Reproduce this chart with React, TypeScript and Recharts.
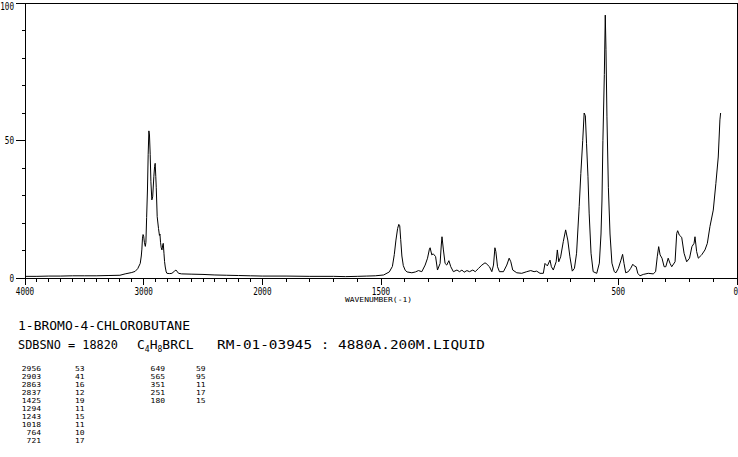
import { Line, LineChart, ReferenceLine, XAxis, YAxis } from "recharts"

// C-H stretch region, drawn at half scale (4000-2000)
const leftWavenumbers = [
  4000, 3900, 3800, 3700, 3600, 3500, 3400, 3300, 3200, 3156, 3100, 3072, 3050, 3029, 3020, 3015,
  3010, 3005, 3000, 2994, 2986, 2981, 2975, 2968, 2962, 2956, 2951, 2945, 2939, 2931, 2924, 2914,
  2908, 2903, 2898, 2894, 2886, 2875, 2867, 2863, 2858, 2852, 2846, 2839, 2835, 2829, 2824, 2818,
  2810, 2804, 2780, 2762, 2740, 2728, 2715, 2706, 2680, 2600, 2500, 2400, 2300, 2200, 2100
]
const leftIntensity = [
  0.6, 0.6, 0.7, 0.7, 0.8, 0.8, 0.8, 0.9, 1.0, 1.5, 2.0, 2.4, 3.4, 5.3, 8, 10.5,
  14.5, 15.8, 15.2, 13, 11.5, 13, 22, 32, 45, 53.5, 52, 45, 35, 28.4, 29.5, 37,
  40.5, 41.7, 37, 33, 22.3, 18, 15.5, 16, 13, 11, 10.2, 12, 12.6, 9, 6, 4,
  2.2, 1.7, 1.6, 1.7, 2.5, 2.9, 2.2, 1.7, 1.5, 1.4, 1.3, 1.1, 1.0, 0.9, 0.8
]

// fingerprint region, full scale (2000-0)
const rightWavenumbers = [
  2000, 1900, 1800, 1700, 1650, 1600, 1560, 1524, 1489, 1465, 1452, 1444, 1437, 1430, 1425, 1421,
  1417, 1412, 1406, 1398, 1390, 1370, 1355, 1342, 1328, 1314, 1304, 1296, 1293, 1286, 1280, 1276,
  1270, 1262, 1251, 1246, 1243, 1237, 1230, 1223, 1214, 1206, 1195, 1180, 1169, 1159, 1150, 1138,
  1127, 1113, 1103, 1089, 1075, 1062, 1057, 1043, 1033, 1026, 1020, 1016, 1009, 1001, 984, 970,
  960, 953, 945, 928, 907, 886, 869, 855, 844, 830, 816, 809, 799, 788, 782, 774,
  762, 757, 751, 743, 732, 722, 713, 704, 694, 685, 676, 665, 658, 650, 644, 639,
  634, 628, 623, 615, 606, 591, 580, 573, 569, 565, 559, 555, 552, 548, 542, 535,
  527, 517, 510, 500, 489, 482, 476, 469, 458, 448, 439, 433, 425, 418, 409, 395,
  374, 353, 343, 336, 330, 324, 316, 307, 300, 290, 282, 275, 261, 254, 250, 243,
  233, 223, 212, 200, 190, 181, 177, 170, 163, 149, 135, 125, 114, 100, 89, 79,
  72, 69
]
const rightIntensity = [
  0.7, 0.7, 0.6, 0.6, 0.5, 0.6, 0.7, 0.8, 1.1, 2.2, 4.2, 8.5, 13.8, 18, 19.5, 19,
  14, 8, 4.5, 2.8, 2.2, 1.9, 2.2, 2.7, 2.3, 4.7, 7.2, 10.5, 11, 8.4, 8.8, 8.4,
  7.8, 2.9, 5.3, 12, 15, 10.2, 5.3, 4.7, 6.3, 4.1, 2.3, 2.9, 2.3, 2.9, 2.1, 2.7,
  2.3, 2.9, 2.3, 3.5, 4.7, 5.5, 5.3, 4.1, 2.3, 4.7, 11, 9.6, 4.1, 2.3, 2.3, 4.7,
  7.2, 5.9, 2.9, 1.9, 1.7, 2.3, 2.7, 2.3, 2.5, 1.7, 1.7, 5.3, 4.4, 6.5, 4.1, 2.9,
  5.9, 10.2, 5.9, 7.7, 13.2, 17.5, 13.8, 7.7, 2.5, 3.5, 9, 26, 38, 50, 60, 59,
  49, 37, 23.6, 9, 2.3, 1.7, 5.4, 16, 28, 50, 74, 95.6, 83, 58.6, 33, 16,
  5.4, 2.3, 1.9, 3.5, 6.5, 8.6, 5.3, 1.9, 2.3, 3.5, 5, 4.4, 4.1, 1.7, 0.8, 1.3,
  1.7, 1.5, 2.3, 7.7, 11.4, 8.4, 7.2, 4.1, 4.1, 7.2, 5.3, 4.1, 5.9, 16.2, 17.2, 15.6,
  14.8, 9, 5.9, 7.2, 11.4, 12.6, 15, 9.6, 7.2, 8.4, 10.2, 12.6, 18.7, 24.7, 34.4, 44,
  57.5, 60
]

const labelledWavenumbers = [4000, 3000, 2000, 1500, 500, 0]
const intensityTicks = [0, 10, 20, 30, 40, 50, 60, 70, 80, 90, 100]
const labelledIntensities = [0, 50, 100]

const peakListA = ["2956", "2903", "2863", "2837", "1425", "1294", "1243", "1018", "764", "721"]
const peakListAValues = ["53", "41", "16", "12", "19", "11", "15", "11", "10", "17"]
const peakListB = ["649", "565", "351", "251", "180"]
const peakListBValues = ["59", "95", "11", "17", "15"]

// the axis is split: 4000-2000 at half scale, 2000-0 at full scale
function toAxis(w: number) {
  return w >= 2000 ? (4000 - w) / 2 : 3000 - w
}

function fromAxis(u: number) {
  return u <= 1000 ? 4000 - 2 * u : 3000 - u
}

const spectrum = [
  ...leftWavenumbers.map((w, i) => ({ u: toAxis(w), value: leftIntensity[i] })),
  ...rightWavenumbers.map((w, i) => ({ u: toAxis(w), value: rightIntensity[i] }))
]

const xTicks: number[] = []
for (let w = 4000; w >= 0; w -= 100) xTicks.push(toAxis(w))

const mono = "'DejaVu Sans Mono', monospace"

type TickProps = {
  x?: number
  y?: number
  payload?: { value: number }
}

function WavenumberTick({ x = 0, y = 0, payload }: TickProps) {
  const w = Math.round(fromAxis(payload?.value ?? 0))
  const major = labelledWavenumbers.includes(w)
  const label = String(w)
  // the last label sits at the right edge, keep it inside
  const anchor = w === 0 ? "end" : "middle"
  const tx = w === 0 ? x + 1 : x
  return (
    <g>
      <line x1={x} y1={y} x2={x} y2={y + (major ? 7 : 4)} stroke="#000" shapeRendering="crispEdges" />
      {major && (
        <text
          x={tx}
          y={y + 17}
          textAnchor={anchor}
          fontFamily={mono}
          fontSize={10}
          textLength={label.length * 4.6}
          lengthAdjust="spacingAndGlyphs"
          fill="#000"
        >
          {label}
        </text>
      )}
    </g>
  )
}

function IntensityTick({ x = 0, y = 0, payload }: TickProps) {
  const v = payload?.value ?? 0
  const major = labelledIntensities.includes(v)
  const label = String(v)
  const ty = v === 100 ? y + 7 : y + 3.5
  return (
    <g>
      <line x1={x - (major ? 9 : 3.5)} y1={y} x2={x} y2={y} stroke="#000" shapeRendering="crispEdges" />
      {major && (
        <text
          x={14}
          y={ty}
          textAnchor="end"
          fontFamily={mono}
          fontSize={10}
          textLength={label.length * 4.6}
          lengthAdjust="spacingAndGlyphs"
          fill="#000"
        >
          {label}
        </text>
      )}
    </g>
  )
}

function Caption() {
  return (
    <svg width={738} height={457} style={{ position: "absolute", left: 0, top: 0, pointerEvents: "none" }}>
      <text x={345} y={302} fontFamily={mono} fontSize={7} textLength={67} lengthAdjust="spacingAndGlyphs">
        WAVENUMBER(-1)
      </text>
      <text x={18} y={330} fontFamily={mono} fontSize={13} textLength={172} lengthAdjust="spacingAndGlyphs">
        1-BROMO-4-CHLOROBUTANE
      </text>
      <text x={18} y={349} fontFamily={mono} fontSize={13} textLength={100} lengthAdjust="spacingAndGlyphs">
        SDBSNO = 18820
      </text>
      <text x={137} y={349} fontFamily={mono} fontSize={13}>
        <tspan>C</tspan>
        <tspan dy={3} fontSize={8}>4</tspan>
        <tspan dy={-3}>H</tspan>
        <tspan dy={3} fontSize={8}>8</tspan>
        <tspan dy={-3}>BRCL</tspan>
      </text>
      <text x={217} y={349} fontFamily={mono} fontSize={13} textLength={268} lengthAdjust="spacingAndGlyphs">
        RM-01-03945 : 4880A.200M.LIQUID
      </text>
      {peakListA.map((w, i) => (
        <g key={w} fontFamily={mono} fontSize={6.8}>
          <text x={41} y={371 + i * 8} textAnchor="end" textLength={w.length * 4.8} lengthAdjust="spacingAndGlyphs">
            {w}
          </text>
          <text x={75} y={371 + i * 8} textLength={peakListAValues[i].length * 4.8} lengthAdjust="spacingAndGlyphs">
            {peakListAValues[i]}
          </text>
        </g>
      ))}
      {peakListB.map((w, i) => (
        <g key={w} fontFamily={mono} fontSize={6.8}>
          <text x={165} y={371 + i * 8} textAnchor="end" textLength={w.length * 4.8} lengthAdjust="spacingAndGlyphs">
            {w}
          </text>
          <text x={196} y={371 + i * 8} textLength={peakListBValues[i].length * 4.8} lengthAdjust="spacingAndGlyphs">
            {peakListBValues[i]}
          </text>
        </g>
      ))}
    </svg>
  )
}

export default function App() {
  return (
    <div style={{ position: "absolute", left: 0, top: 0, width: 738, height: 457, background: "#fff" }}>
      <LineChart
        width={738}
        height={457}
        data={spectrum}
        margin={{ top: 3, right: 1, bottom: 149, left: 0 }}
      >
        <XAxis
          type="number"
          dataKey="u"
          domain={[0, 3000]}
          ticks={xTicks}
          interval={0}
          height={30}
          tickSize={0}
          tickMargin={0}
          tickLine={false}
          axisLine={{ stroke: "#000", shapeRendering: "crispEdges" }}
          tick={<WavenumberTick />}
          allowDataOverflow
        />
        <YAxis
          type="number"
          domain={[0, 100]}
          ticks={intensityTicks}
          interval={0}
          width={25}
          tickSize={0}
          tickMargin={0}
          tickLine={false}
          axisLine={{ stroke: "#000", shapeRendering: "crispEdges" }}
          tick={<IntensityTick />}
        />
        <ReferenceLine y={100} stroke="#000" shapeRendering="crispEdges" ifOverflow="visible" />
        <ReferenceLine x={3000} stroke="#000" shapeRendering="crispEdges" ifOverflow="visible" />
        <Line
          type="linear"
          dataKey="value"
          stroke="#000"
          strokeWidth={1}
          dot={false}
          activeDot={false}
          isAnimationActive={false}
        />
      </LineChart>
      <Caption />
    </div>
  )
}
